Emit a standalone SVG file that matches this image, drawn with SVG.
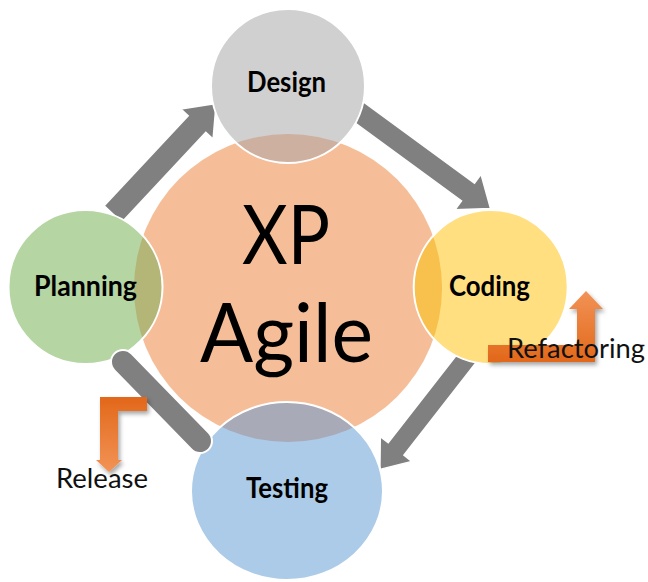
<svg xmlns="http://www.w3.org/2000/svg" width="648" height="582" viewBox="0 0 648 582">
<style>
.lbl{font-family:Lato,"Liberation Sans",sans-serif;font-weight:bold;font-size:28px;fill:#000}
.big{font-family:Lato,"Liberation Sans",sans-serif;font-size:81px;fill:#000}
.note{font-family:Lato,"Liberation Sans",sans-serif;font-size:27px;fill:#111}
.arrow{fill:#808080;stroke:#fff;stroke-width:1.5}
.ring{fill:none;stroke:#fff;stroke-width:2}
</style>
<defs>
<clipPath id="core"><circle cx="288" cy="288" r="154"/></clipPath>
<linearGradient id="gUp" gradientUnits="userSpaceOnUse" x1="0" y1="291" x2="0" y2="362">
<stop offset="0" stop-color="#F29356"/><stop offset="1" stop-color="#E2681A"/>
</linearGradient>
<linearGradient id="gDown" gradientUnits="userSpaceOnUse" x1="0" y1="397" x2="0" y2="472">
<stop offset="0" stop-color="#E2681A"/><stop offset="1" stop-color="#F29356"/>
</linearGradient>
<filter id="sh" x="-20%" y="-20%" width="150%" height="150%">
<feDropShadow dx="2" dy="3" stdDeviation="2" flood-color="#000" flood-opacity="0.35"/>
</filter>
</defs>
<g id="connectors">
<polygon class="arrow" points="104.2,205.8 188.2,115.8 180.9,109 216.1,103.5 213.1,139 205.8,132.2 121.8,222.2"/>
<polygon class="arrow" points="351.5,93.1 474.5,183.1 481,174.3 490.5,208.6 455,209.7 461.5,200.9 338.5,110.9"/>
<polygon class="arrow" points="462.2,347.8 388.2,442.8 380.3,436.6 379.9,469.4 411.7,461.4 403.9,455.2 477.9,360.2"/>
</g>
<g id="xp-agile">
<circle cx="288" cy="288" r="154" fill="#F5BE98"/>
<text class="big" x="242" y="264" textLength="88" lengthAdjust="spacingAndGlyphs">XP</text>
<text class="big" x="200" y="362" textLength="173" lengthAdjust="spacingAndGlyphs">Agile</text>
</g>
<g id="design">
<circle cx="288" cy="86" r="77" fill="#D0D0D0"/>
<circle cx="288" cy="86" r="77" fill="#CDB0A0" clip-path="url(#core)"/>
<circle class="ring" cx="288" cy="86" r="77"/>
<text class="lbl" x="247" y="92" textLength="79" lengthAdjust="spacingAndGlyphs">Design</text>
</g>
<g id="planning">
<circle cx="85.5" cy="287" r="77" fill="#B5D5A3"/>
<circle cx="85.5" cy="287" r="77" fill="#B3B677" clip-path="url(#core)"/>
<circle class="ring" cx="85.5" cy="287" r="77"/>
<text class="lbl" x="34" y="296" textLength="103" lengthAdjust="spacingAndGlyphs">Planning</text>
</g>
<g id="coding">
<circle cx="490.7" cy="287" r="77" fill="#FFDF80"/>
<circle cx="490.7" cy="287" r="77" fill="#F8C04C" clip-path="url(#core)"/>
<circle class="ring" cx="490.7" cy="287" r="77"/>
<text class="lbl" x="449" y="296" textLength="81" lengthAdjust="spacingAndGlyphs">Coding</text>
</g>
<g id="testing">
<ellipse cx="287" cy="491" rx="96" ry="89" fill="#ABCBE8"/>
<ellipse cx="287" cy="491" rx="96" ry="89" fill="#A8AAB8" clip-path="url(#core)"/>
<ellipse class="ring" cx="287" cy="491" rx="96" ry="89"/>
<text class="lbl" x="246" y="498" textLength="82" lengthAdjust="spacingAndGlyphs">Testing</text>
</g>
<g id="release-link">
<line x1="123" y1="362" x2="200" y2="441" stroke="#fff" stroke-width="26" stroke-linecap="round"/>
<line x1="123" y1="362" x2="200" y2="441" stroke="#808080" stroke-width="22" stroke-linecap="round"/>
</g>
<g id="refactoring">
<polygon filter="url(#sh)" fill="url(#gUp)" points="488,345 577,345 577,309 569,309 586,291 603,309 595,309 595,362 488,362"/>
<text class="note" x="507" y="358" textLength="138" lengthAdjust="spacingAndGlyphs">Refactoring</text>
</g>
<g id="release">
<polygon filter="url(#sh)" fill="url(#gDown)" points="100,397 147,397 147,411 118,411 118,460 122,460 109,472 96,460 100,460"/>
<text class="note" x="56" y="488" textLength="92" lengthAdjust="spacingAndGlyphs">Release</text>
</g>
</svg>
